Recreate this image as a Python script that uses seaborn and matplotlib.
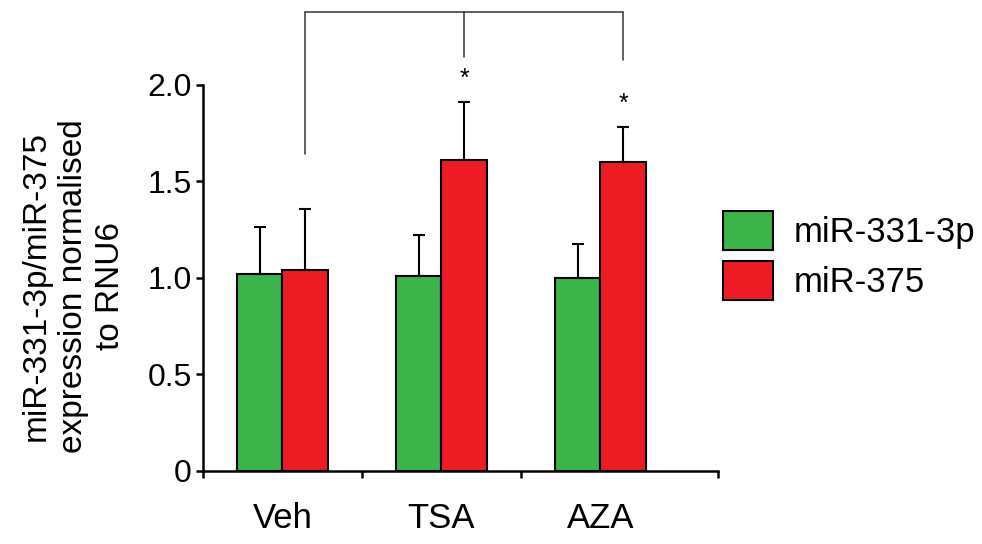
import numpy as np
import pandas as pd
import matplotlib
matplotlib.use("Agg")
import matplotlib.pyplot as plt
import seaborn as sns

# values
groups = ["Veh", "TSA", "AZA"]
genes = ["miR-331-3p", "miR-375"]
mir331 = [1.02, 1.01, 1.00]
mir331_err = [0.245, 0.214, 0.176]
mir375 = [1.04, 1.61, 1.60]
mir375_err = [0.318, 0.30, 0.18]
stars = ["", "*", "*"]
colors = ["#3BB54A", "#ED1C24"]

df = pd.DataFrame({
    "group": groups * 2,
    "gene": [genes[0]] * 3 + [genes[1]] * 3,
    "value": mir331 + mir375,
})
errs = [mir331_err, mir375_err]

sns.set_style("ticks")
plt.rcParams["font.family"] = ["Liberation Sans", "DejaVu Sans"]
plt.rcParams.update({"text.color": "black", "axes.labelcolor": "black",
                     "axes.edgecolor": "black", "xtick.color": "black",
                     "ytick.color": "black"})

fig = plt.figure(figsize=(9.82, 5.44), dpi=100)
ax = fig.add_axes([0.2067, 0.1342, 0.5245, 0.7096])

sns.barplot(data=df, x="group", y="value", hue="gene", order=groups,
            hue_order=genes, palette=colors, width=0.57, errorbar=None,
            edgecolor="black", linewidth=1.5, saturation=1, ax=ax)

# upward-only error bars
for cont, err in zip(ax.containers, errs):
    xs = [b.get_x() + b.get_width() / 2 for b in cont]
    hs = [b.get_height() for b in cont]
    ax.errorbar(xs, hs, yerr=[np.zeros(len(err)), err], fmt="none",
                ecolor="black", elinewidth=1.5, capsize=4, capthick=1.5)

# stars above red bars
red = ax.containers[1]
for b, s, e in zip(red, stars, mir375_err):
    if s:
        ax.text(b.get_x() + b.get_width() / 2, b.get_height() + e + 0.06, s,
                ha="center", va="bottom", fontsize=18)

# comparison bracket
rx = [b.get_x() + b.get_width() / 2 for b in red]
top = 2.38
kw = dict(color="#333333", lw=1.1, clip_on=False)
ax.plot([rx[0], rx[2]], [top, top], **kw)
ax.plot([rx[0], rx[0]], [top, 1.64], **kw)
ax.plot([rx[1], rx[1]], [top, 2.145], **kw)
ax.plot([rx[2], rx[2]], [top, 2.13], **kw)

ax.set_ylim(0, 2.0)
ax.set_xlim(-0.5, 2.74)
ax.set_yticks([0, 0.5, 1.0, 1.5, 2.0])
ax.set_yticklabels(["0", "0.5", "1.0", "1.5", "2.0"])
ax.set_xticks([-0.5, 0.5, 1.5, 2.74], minor=True)
ax.tick_params(axis="x", which="major", length=0, pad=22, labelsize=25)
ax.tick_params(axis="x", which="minor", length=5, width=1.8, direction="out")
ax.tick_params(axis="y", length=5, width=1.8, pad=3, labelsize=23)
ax.set_xlabel("")
ax.set_ylabel("miR-331-3p/miR-375\nexpression normalised\nto RNU6",
              fontsize=24, va="center", multialignment="center",
              linespacing=1.25)
ax.yaxis.set_label_coords(-0.252, 0.48)

for side in ["top", "right"]:
    ax.spines[side].set_visible(False)
for side in ["left", "bottom"]:
    ax.spines[side].set_linewidth(1.8)

ax.legend(loc="upper left", bbox_to_anchor=(723 / 982, 1 - 211 / 544),
          bbox_transform=fig.transFigure, frameon=False, fontsize=25,
          handlelength=1.44, handleheight=1.36, labelspacing=0.3,
          handletextpad=0.6, borderpad=0, borderaxespad=0)

fig.savefig("out.png", dpi=100)
